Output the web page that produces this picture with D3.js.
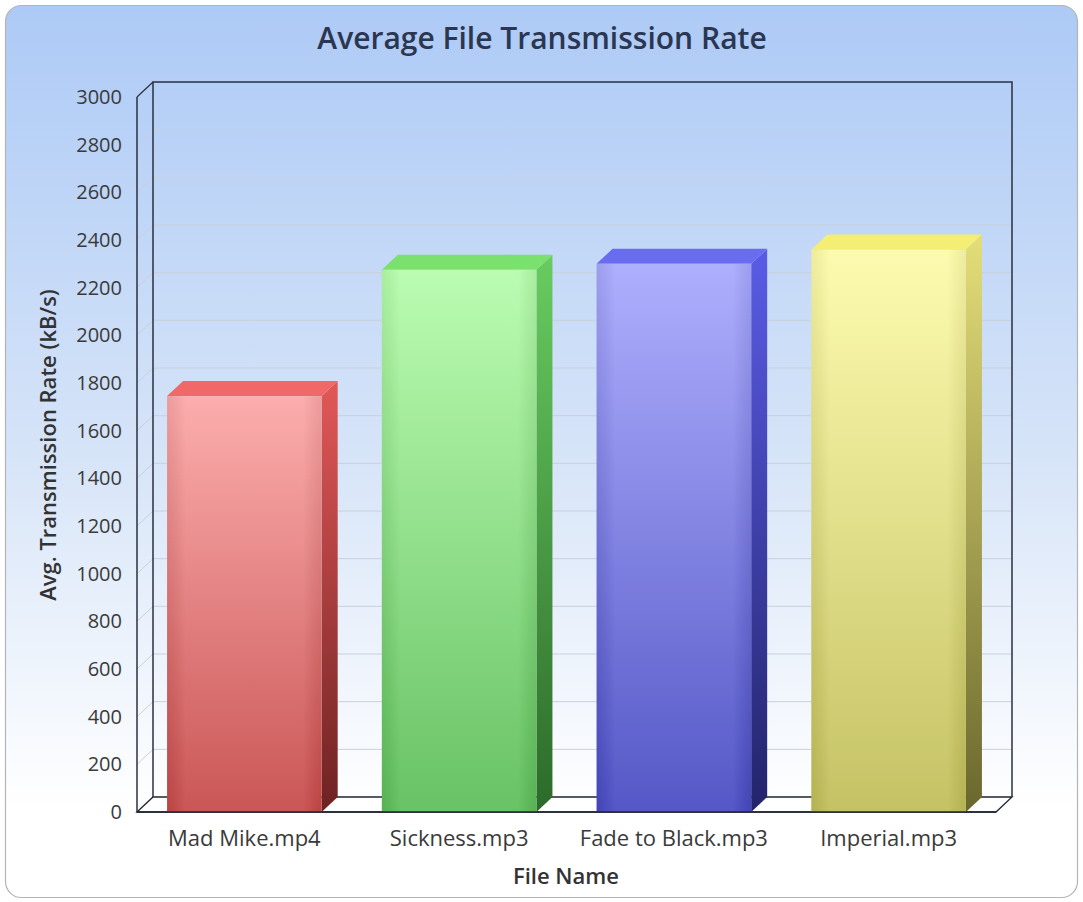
<!DOCTYPE html>
<html>
<head>
<meta charset="utf-8">
<script src="https://cdn.jsdelivr.net/npm/d3@7"></script>
<style>
  html, body { margin: 0; padding: 0; background: #fff; }
  svg { display: block; font-family: "Open Sans", "DejaVu Sans", sans-serif; }
</style>
</head>
<body>
<div id="chart"></div>
<script>
// chart data
const categories = ["Mad Mike.mp4", "Sickness.mp3", "Fade to Black.mp3", "Imperial.mp3"];
const rates = [1745, 2275, 2300, 2360];
const yTickValues = [0, 200, 400, 600, 800, 1000, 1200, 1400, 1600, 1800, 2000, 2200, 2400, 2600, 2800, 3000];

// colours: front top, front bottom, top face, side top, side bottom
const palette = [
    ["#fca6a6", "#c64848", "#f06868", "#e25858", "#6e2222"],
    ["#b5fcab", "#5cbd58", "#7ae06e", "#68cc60", "#2c6a2a"],
    ["#a7a8fd", "#4749c2", "#6a6cf0", "#5a5ce6", "#23246a"],
    ["#fdfba8", "#c0bd58", "#f4ee74", "#e4de78", "#6a672e"]
];

const width = 1083, height = 902;
const depthX = 16, depthY = 15;

const svg = d3.select("#chart").append("svg")
    .attr("width", width)
    .attr("height", height);

const defs = svg.append("defs");

// background gradient
const bg = defs.append("linearGradient")
    .attr("id", "bgGrad")
    .attr("x1", 0).attr("y1", 0).attr("x2", 0).attr("y2", 1);
bg.append("stop").attr("offset", "0%").attr("stop-color", "#adcaf6");
bg.append("stop").attr("offset", "50%").attr("stop-color", "#d6e4f8");
bg.append("stop").attr("offset", "90%").attr("stop-color", "#ffffff");

svg.append("rect")
    .attr("x", 5.5).attr("y", 5.5)
    .attr("width", width - 11).attr("height", height - 10)
    .attr("rx", 16)
    .attr("fill", "url(#bgGrad)")
    .attr("stroke", "#b4b4b4")
    .attr("stroke-width", 1.2);

// scales
const x = d3.scaleBand()
    .domain(categories)
    .range([137, 996])
    .paddingInner(0.28)
    .paddingOuter(0.14);

const y = d3.scaleLinear()
    .domain([0, 3000])
    .range([812, 97]);

const x0 = 137, x1 = 996;

// floor
svg.append("polygon")
    .attr("points", [
        [x0, y(0)], [x0 + depthX, y(0) - depthY],
        [x1 + depthX, y(0) - depthY], [x1, y(0)]
    ].join(" "))
    .attr("fill", "#ffffff")
    .attr("stroke", "#1e2430")
    .attr("stroke-width", 1.3);

// gridlines on left wall + back wall
svg.append("g")
    .selectAll("polyline")
    .data(yTickValues.filter(d => d > 0 && d < 3000))
    .enter().append("polyline")
    .attr("points", d => [
        [x0, y(d)], [x0 + depthX, y(d) - depthY], [x1 + depthX, y(d) - depthY]
    ].join(" "))
    .attr("fill", "none")
    .attr("stroke", "#c9d0da")
    .attr("stroke-width", 1);

// back wall outline
svg.append("polyline")
    .attr("points", [
        [x0 + depthX, y(0) - depthY], [x0 + depthX, y(3000) - depthY],
        [x1 + depthX, y(3000) - depthY], [x1 + depthX, y(0) - depthY]
    ].join(" "))
    .attr("fill", "none")
    .attr("stroke", "#2a3040")
    .attr("stroke-width", 1.5);

// left wall top edge
svg.append("line")
    .attr("x1", x0).attr("y1", y(3000))
    .attr("x2", x0 + depthX).attr("y2", y(3000) - depthY)
    .attr("stroke", "#2a3040")
    .attr("stroke-width", 1.2);

// bar gradients
palette.forEach((p, i) => {
    const gf = defs.append("linearGradient")
        .attr("id", "front" + i)
        .attr("x1", 0).attr("y1", 0).attr("x2", 0).attr("y2", 1);
    gf.append("stop").attr("offset", "0%").attr("stop-color", p[0]);
    gf.append("stop").attr("offset", "100%").attr("stop-color", p[1]);

    const gs = defs.append("linearGradient")
        .attr("id", "side" + i)
        .attr("x1", 0).attr("y1", 0).attr("x2", 0).attr("y2", 1);
    gs.append("stop").attr("offset", "0%").attr("stop-color", p[3]);
    gs.append("stop").attr("offset", "100%").attr("stop-color", p[4]);

    const gh = defs.append("linearGradient")
        .attr("id", "shade" + i)
        .attr("x1", 0).attr("y1", 0).attr("x2", 1).attr("y2", 0);
    gh.append("stop").attr("offset", "0%").attr("stop-color", "#000").attr("stop-opacity", 0.06);
    gh.append("stop").attr("offset", "12%").attr("stop-color", "#fff").attr("stop-opacity", 0.08);
    gh.append("stop").attr("offset", "88%").attr("stop-color", "#fff").attr("stop-opacity", 0.08);
    gh.append("stop").attr("offset", "100%").attr("stop-color", "#000").attr("stop-opacity", 0.06);
});

const bars = svg.append("g")
    .selectAll("g")
    .data(categories)
    .enter().append("g");

// side faces
bars.append("polygon")
    .attr("points", (d, i) => {
        const r = x(d) + x.bandwidth();
        const t = y(rates[i]);
        return [[r, t], [r + depthX, t - depthY], [r + depthX, y(0) - depthY], [r, y(0)]].join(" ");
    })
    .attr("fill", (d, i) => `url(#side${i})`);

// top faces
bars.append("polygon")
    .attr("points", (d, i) => {
        const l = x(d), r = x(d) + x.bandwidth();
        const t = y(rates[i]);
        return [[l, t], [l + depthX, t - depthY], [r + depthX, t - depthY], [r, t]].join(" ");
    })
    .attr("fill", (d, i) => palette[i][2]);

// front faces
bars.append("rect")
    .attr("x", d => x(d))
    .attr("y", (d, i) => y(rates[i]))
    .attr("width", x.bandwidth())
    .attr("height", (d, i) => y(0) - y(rates[i]))
    .attr("fill", (d, i) => `url(#front${i})`);

bars.append("rect")
    .attr("x", d => x(d))
    .attr("y", (d, i) => y(rates[i]))
    .attr("width", x.bandwidth())
    .attr("height", (d, i) => y(0) - y(rates[i]))
    .attr("fill", (d, i) => `url(#shade${i})`);

// front bottom edge and front axis line
svg.append("line")
    .attr("x1", x0).attr("y1", y(0))
    .attr("x2", x1).attr("y2", y(0))
    .attr("stroke", "#1e2430")
    .attr("stroke-width", 1.5);

svg.append("line")
    .attr("x1", x0).attr("y1", y(0))
    .attr("x2", x0).attr("y2", y(3000))
    .attr("stroke", "#2a3040")
    .attr("stroke-width", 1.5);

// y tick labels
svg.append("g")
    .selectAll("text")
    .data(yTickValues)
    .enter().append("text")
    .attr("x", 122)
    .attr("y", d => y(d))
    .attr("dy", "0.35em")
    .attr("text-anchor", "end")
    .attr("font-size", 20)
    .attr("fill", "#3a3a3a")
    .text(d => d);

// x category labels
svg.append("g")
    .selectAll("text")
    .data(categories)
    .enter().append("text")
    .attr("x", d => x(d) + x.bandwidth() / 2)
    .attr("y", 838)
    .attr("dy", "0.35em")
    .attr("text-anchor", "middle")
    .attr("font-size", 22)
    .attr("fill", "#3a3a3a")
    .text(d => d);

// titles
svg.append("text")
    .attr("x", 542)
    .attr("y", 38)
    .attr("dy", "0.35em")
    .attr("text-anchor", "middle")
    .attr("font-size", 30)
    .attr("font-weight", 600)
    .attr("fill", "#2b3650")
    .text("Average File Transmission Rate");

svg.append("text")
    .attr("x", 566)
    .attr("y", 876)
    .attr("dy", "0.35em")
    .attr("text-anchor", "middle")
    .attr("font-size", 22)
    .attr("font-weight", 600)
    .attr("fill", "#333")
    .text("File Name");

svg.append("text")
    .attr("transform", "translate(48,445) rotate(-90)")
    .attr("dy", "0.35em")
    .attr("text-anchor", "middle")
    .attr("font-size", 22)
    .attr("font-weight", 600)
    .attr("fill", "#333")
    .text("Avg. Transmission Rate (kB/s)");
</script>
</body>
</html>
